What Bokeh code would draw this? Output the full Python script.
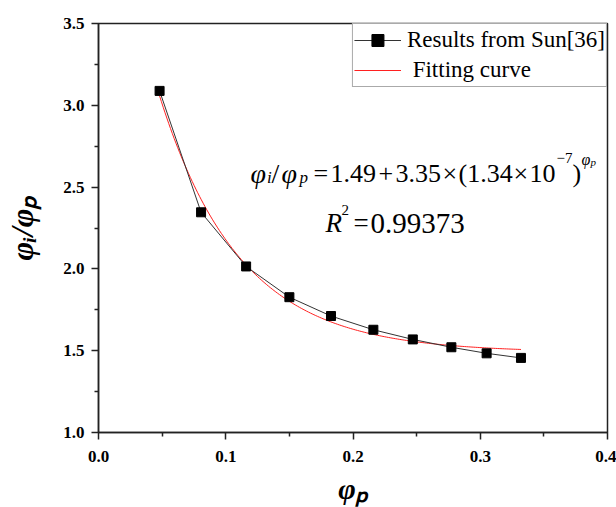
import numpy as np
from bokeh.plotting import figure
from bokeh.models import (Range1d, FixedTicker, PrintfTickFormatter, Label,
                          Legend, LegendItem)
from bokeh.embed import file_html
from bokeh.resources import INLINE

# ---- data ----
phi_p = [0.048, 0.0806, 0.116, 0.150, 0.1827, 0.216, 0.247, 0.2773, 0.305, 0.332]
ratio = [3.088, 2.346, 2.015, 1.827, 1.712, 1.628, 1.569, 1.521, 1.484, 1.456]
# fitting curve parameters, as printed on the chart: 1.49 + 3.35*(1.34e-7)^phi_p
fit_a = 1.49
fit_b = 3.35
fit_c = 1.34e-7
x_ticks = [0.0, 0.1, 0.2, 0.3, 0.4]
x_minor = [0.05, 0.15, 0.25, 0.35]
y_ticks = [1.0, 1.5, 2.0, 2.5, 3.0, 3.5]
y_minor = [1.25, 1.75, 2.25, 2.75, 3.25]
series_label = "Results from Sun[36]"
fit_label = "\u00a0Fitting curve"
x_title = "\u03c6\u209a"
y_title = "\u03c6\u1d62/\u03c6\u209a"
r_squared = "0.99373"

FONT = "Liberation Serif"

p = figure(width=616, height=507, output_backend="svg", toolbar_location=None,
           x_range=Range1d(0, 0.4), y_range=Range1d(1.0, 3.5),
           min_border_left=98, min_border_right=9, min_border_top=23,
           min_border_bottom=74)
p.grid.visible = False
p.outline_line_color = "#222222"
p.outline_line_width = 1.5
p.background_fill_color = "white"
p.border_fill_color = "white"

for ax, ticks, minor in ((p.xaxis[0], x_ticks, x_minor), (p.yaxis[0], y_ticks, y_minor)):
    ax.ticker = FixedTicker(ticks=ticks, minor_ticks=minor)
    ax.formatter = PrintfTickFormatter(format="%.1f")
    ax.major_label_text_font = FONT
    ax.major_label_text_font_style = "bold"
    ax.major_label_text_font_size = "17px"
    ax.major_label_text_color = "black"
    ax.axis_line_color = "#222222"
    ax.axis_line_width = 1.5
    ax.major_tick_line_color = "#222222"
    ax.major_tick_line_width = 1.5
    ax.minor_tick_line_color = "#222222"
    ax.minor_tick_line_width = 1.5
    ax.major_tick_out = 7
    ax.major_tick_in = 0
    ax.minor_tick_out = 4
    ax.minor_tick_in = 0
    ax.axis_label_text_font = FONT
    ax.axis_label_text_font_style = "bold italic"
    ax.axis_label_text_color = "black"
p.xaxis.major_label_standoff = 11
p.yaxis.major_label_standoff = 7
p.xaxis.axis_label = x_title
p.yaxis.axis_label = y_title
p.xaxis.axis_label_text_font_size = "30px"
p.yaxis.axis_label_text_font_size = "32px"
p.xaxis.axis_label_standoff = 7
p.yaxis.axis_label_standoff = 20

# ---- series ----
fx = np.linspace(min(phi_p), max(phi_p), 200)
fy = fit_a + fit_b * np.power(fit_c, fx)
fit_r = p.line(fx, fy, line_color="#ff2020", line_width=1)
line_r = p.line(phi_p, ratio, line_color="#333333", line_width=1)
scat_r = p.scatter(phi_p, ratio, marker="square", size=9, fill_color="black",
                   line_color="black")

legend = Legend(items=[LegendItem(label=series_label, renderers=[line_r, scat_r]),
                       LegendItem(label=fit_label, renderers=[fit_r])],
                location="top_right")
legend.margin = 0
legend.padding = 1
legend.spacing = 0
legend.glyph_width = 47
legend.glyph_height = 30
legend.label_height = 30
legend.label_standoff = 6
legend.label_text_font = FONT
legend.label_text_font_size = "23px"
legend.label_text_color = "black"
legend.border_line_color = "#555555"
legend.border_line_width = 1
legend.background_fill_alpha = 1
p.add_layout(legend)


def txt(x, y, t, size, style="normal"):
    p.add_layout(Label(x=x, y=y, text=t, text_font=FONT, text_font_size=size,
                       text_font_style=style, text_color="black",
                       text_align="left", text_baseline="alphabetic"))


# ---- equation: phi_i/phi_p = 1.49 + 3.35 x (1.34 x 10^-7)^phi_p ----
base = 2.585
txt(0.1194, base, "\u03c6", "28px", "italic")
txt(0.1324, 2.561, "i", "17px", "italic")
txt(0.1360, base, "/", "28px")
txt(0.1438, base, "\u03c6", "28px", "italic")
txt(0.1580, 2.561, "p", "17px", "italic")
txt(0.1690, base, "=", "26px")
txt(0.1823, base, "1.49", "26px")
txt(0.2200, base, "+", "26px")
txt(0.2334, base, "3.35", "26px")
txt(0.2703, base, "\u00d7", "26px")
txt(0.2829, base, "(1.34", "26px")
txt(0.3261, base, "\u00d7", "26px")
txt(0.3387, base, "10", "26px")
txt(0.3599, 2.677, "\u22127", "15px")
txt(0.3725, base, ")", "26px")
txt(0.3796, 2.671, "\u03c6", "16px", "italic")
txt(0.3866, 2.652, "p", "11px", "italic")

# ---- R^2 ----
rbase = 2.280
txt(0.1784, rbase, "R", "27px", "italic")
txt(0.1910, 2.360, "2", "15px")
txt(0.2004, rbase, "=", "27px")
txt(0.2138, rbase, r_squared, "29px")

open("out.html", "w").write(file_html(p, INLINE))
